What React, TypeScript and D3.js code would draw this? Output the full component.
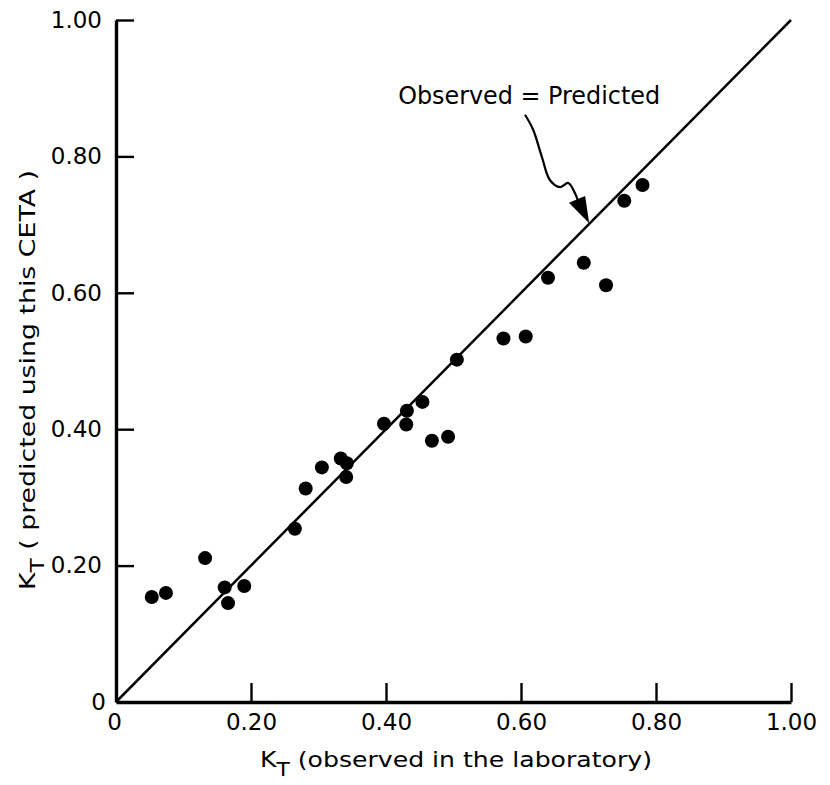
import { useRef, useEffect } from "react";
import * as d3 from "d3";

// K_T observed in the laboratory vs K_T predicted using this CETA
const observed = [0.053, 0.074, 0.132, 0.161, 0.166, 0.190, 0.265, 0.281, 0.305, 0.333, 0.342, 0.341, 0.397, 0.431, 0.430, 0.454, 0.468, 0.492, 0.505, 0.574, 0.607, 0.640, 0.693, 0.726, 0.753, 0.780];
const predicted = [0.154, 0.160, 0.211, 0.168, 0.145, 0.170, 0.254, 0.313, 0.344, 0.357, 0.350, 0.330, 0.408, 0.427, 0.407, 0.440, 0.383, 0.389, 0.502, 0.533, 0.536, 0.622, 0.644, 0.611, 0.735, 0.758];
const tickValues = [0, 0.2, 0.4, 0.6, 0.8, 1.0];
const tickLabels = ["0", "0.20", "0.40", "0.60", "0.80", "1.00"];
const annotationText = "Observed = Predicted";
const annotationAt = [0.418, 0.877];
const arrowCurve: [number, number][] = [[0.606, 0.861], [0.618, 0.839], [0.631, 0.799], [0.643, 0.765], [0.658, 0.755], [0.670, 0.761], [0.680, 0.746], [0.684, 0.736]];
const arrowHead: [number, number][] = [[0.671, 0.732], [0.695, 0.742], [0.701, 0.702]];

const FONT = "'DejaVu Sans', sans-serif";

export default function App() {
  const ref = useRef<SVGSVGElement>(null);

  useEffect(() => {
    if (!ref.current) return;
    const svg = d3.select(ref.current); svg.selectAll("*").remove();
    const x = d3.scaleLinear().domain([0, 1]).range([116, 791]);
    const y = d3.scaleLinear().domain([0, 1]).range([702, 20]);
    const fmt = (d: d3.NumberValue) => tickLabels[tickValues.indexOf(+d)];

    // identity line
    svg.append("line").attr("x1", x(0)).attr("y1", y(0)).attr("x2", x(1)).attr("y2", y(1))
      .attr("stroke", "#000").attr("stroke-width", 2.5);

    const yAxis = svg.append("g").attr("transform", `translate(${x(0)},0)`)
      .call(d3.axisLeft(y).tickValues(tickValues).tickFormat(fmt).tickSizeInner(-18).tickSizeOuter(0).tickPadding(14));
    const xAxis = svg.append("g").attr("transform", `translate(0,${y(0)})`)
      .call(d3.axisBottom(x).tickValues(tickValues).tickFormat(fmt).tickSizeInner(-19).tickSizeOuter(0).tickPadding(12));
    [yAxis, xAxis].forEach(a => {
      a.select(".domain").attr("stroke", "#000").attr("stroke-width", 3.4);
      a.selectAll(".tick line").attr("stroke", "#000").attr("stroke-width", 2.4);
      a.selectAll(".tick text").attr("fill", "#000").attr("font-size", "23px").attr("font-family", FONT);
    });
    yAxis.selectAll(".tick").filter(d => +d === 0).select("line").remove();
    xAxis.selectAll(".tick").filter(d => +d === 0).select("line").remove();
    yAxis.selectAll(".tick").filter(d => +d === 0).select("text").attr("x", -10);
    xAxis.selectAll(".tick").filter(d => +d === 0).select("text").attr("x", -2);

    // points
    svg.selectAll(".pt").data(observed).join("circle")
      .attr("cx", d => x(d)).attr("cy", (_d, i) => y(predicted[i])).attr("r", 7).attr("fill", "#000");

    // annotation
    svg.append("text").attr("x", x(annotationAt[0])).attr("y", y(annotationAt[1]))
      .attr("font-size", "24px").attr("font-family", FONT).attr("fill", "#000")
      .attr("textLength", 262).attr("lengthAdjust", "spacingAndGlyphs").text(annotationText);
    const curve = d3.line<[number, number]>().x(d => x(d[0])).y(d => y(d[1])).curve(d3.curveCatmullRom);
    svg.append("path").attr("d", curve(arrowCurve)).attr("fill", "none").attr("stroke", "#000").attr("stroke-width", 2.2);
    svg.append("path").attr("d", d3.line<[number, number]>().x(d => x(d[0])).y(d => y(d[1]))(arrowHead) + "Z").attr("fill", "#000");

    // axis titles
    const xt = svg.append("text").attr("x", 260).attr("y", 767).attr("font-size", "22px").attr("font-family", FONT).attr("fill", "#000")
      .attr("textLength", 392).attr("lengthAdjust", "spacingAndGlyphs");
    xt.append("tspan").text("K");
    xt.append("tspan").attr("font-size", "19px").attr("dy", 9).text("T");
    xt.append("tspan").attr("dy", -9).text(" (observed in the laboratory)");

    const yt = svg.append("text").attr("transform", "translate(35,590) rotate(-90)").attr("font-size", "22px")
      .attr("font-family", FONT).attr("fill", "#000").attr("textLength", 420).attr("lengthAdjust", "spacingAndGlyphs");
    yt.append("tspan").text("K");
    yt.append("tspan").attr("font-size", "19px").attr("dy", 9).text("T");
    yt.append("tspan").attr("dy", -9).text(" ( predicted using this CETA )");
  }, []);

  return (
    <svg ref={ref} width={830} height={785} style={{ position: "absolute", left: 0, top: 0, background: "#fff" }} />
  );
}
